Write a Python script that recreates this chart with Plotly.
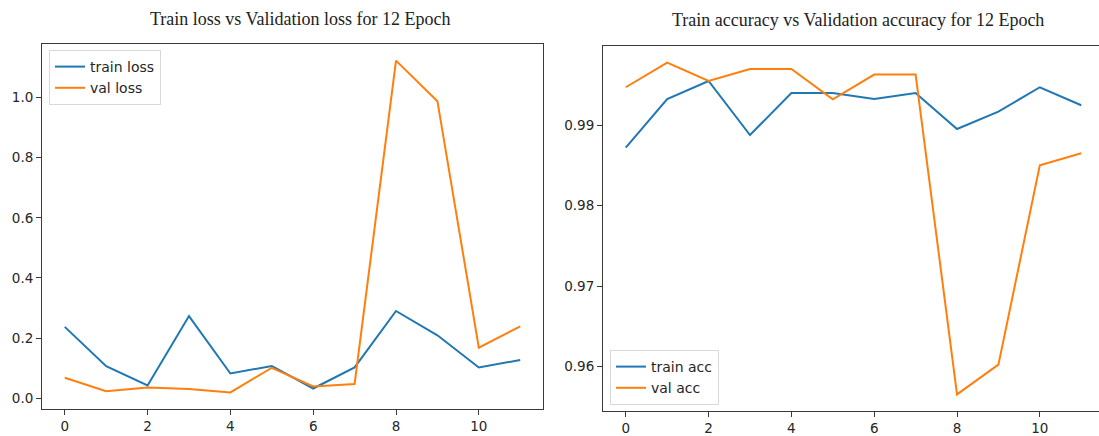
import plotly.graph_objects as go

epochs = list(range(12))
train_loss = [0.237, 0.106, 0.042, 0.273, 0.082, 0.107, 0.032, 0.102, 0.290, 0.209, 0.102, 0.127]
val_loss = [0.068, 0.023, 0.035, 0.030, 0.019, 0.101, 0.039, 0.047, 1.123, 0.988, 0.168, 0.239]
train_acc = [0.98722, 0.99327, 0.99551, 0.98879, 0.99402, 0.99402, 0.99327, 0.99402, 0.98954, 0.99170, 0.99473, 0.99249]
val_acc = [0.99473, 0.99780, 0.99551, 0.99701, 0.99701, 0.99323, 0.99631, 0.99631, 0.95651, 0.96021, 0.98502, 0.98651]
x_ticks = [0, 2, 4, 6, 8, 10]
loss_ticks = [0.0, 0.2, 0.4, 0.6, 0.8, 1.0]
acc_ticks = [0.96, 0.97, 0.98, 0.99]
title_left = "Train loss vs Validation loss for 12 Epoch"
title_right = "Train accuracy vs Validation accuracy for 12 Epoch"

W, H = 1099, 436
BLUE = "#1f77b4"
ORANGE = "#ff7f0e"
AX = "#3a3a3a"
TXT = "#262626"

fig = go.Figure()
fig.add_trace(go.Scatter(x=epochs, y=train_loss, mode="lines", name="train loss",
                         line=dict(color=BLUE, width=2), xaxis="x", yaxis="y", legend="legend"))
fig.add_trace(go.Scatter(x=epochs, y=val_loss, mode="lines", name="val loss",
                         line=dict(color=ORANGE, width=2), xaxis="x", yaxis="y", legend="legend"))
fig.add_trace(go.Scatter(x=epochs, y=train_acc, mode="lines", name="train acc",
                         line=dict(color=BLUE, width=2), xaxis="x2", yaxis="y2", legend="legend2"))
fig.add_trace(go.Scatter(x=epochs, y=val_acc, mode="lines", name="val acc",
                         line=dict(color=ORANGE, width=2), xaxis="x2", yaxis="y2", legend="legend2"))

# matplotlib-style 5% margins
def pad(vals):
    lo, hi = min(vals), max(vals)
    m = (hi - lo) * 0.05
    return [lo - m, hi + m]

xr = pad(epochs)
unit_px = (543 - 42) / (xr[1] - xr[0])
xr2 = [xr[0], xr[0] + (W - 603) / unit_px]

tickfont = dict(family="DejaVu Sans", size=13.5, color=TXT)
common = dict(showline=True, linecolor=AX, linewidth=1, ticks="outside", ticklen=5,
              tickcolor=AX, tickwidth=1, showgrid=False, zeroline=False, tickfont=tickfont)

legfont = dict(family="DejaVu Sans", size=14, color=TXT)

fig.update_layout(
    width=W, height=H,
    margin=dict(l=0, r=0, t=0, b=0),
    paper_bgcolor="white", plot_bgcolor="white",
    xaxis=dict(domain=[42 / W, 543 / W], range=xr, tickvals=x_ticks, mirror=True,
               anchor="y", **common),
    yaxis=dict(domain=[1 - 409 / H, 1 - 44 / H], range=pad(train_loss + val_loss),
               tickvals=loss_ticks, tickformat=".1f", mirror=True, anchor="x", **common),
    xaxis2=dict(domain=[603 / W, 1.0], range=xr2, tickvals=x_ticks, mirror=True,
                anchor="y2", **common),
    yaxis2=dict(domain=[1 - 411 / H, 1 - 46 / H], range=pad(train_acc + val_acc),
                tickvals=acc_ticks, tickformat=".2f", mirror=False, anchor="x2", **common),
    legend=dict(x=49 / W, y=1 - 50 / H, xanchor="left", yanchor="top",
                bgcolor="rgba(255,255,255,0.8)", bordercolor="#d9d9d9", borderwidth=1,
                font=legfont, tracegroupgap=0),
    legend2=dict(x=610 / W, y=1 - 405 / H, xanchor="left", yanchor="bottom",
                 bgcolor="rgba(255,255,255,0.8)", bordercolor="#d9d9d9", borderwidth=1,
                 font=legfont, tracegroupgap=0),
    annotations=[
        dict(text=title_left, x=300 / W, y=1 - 19 / H, xref="paper", yref="paper",
             xanchor="center", yanchor="middle", showarrow=False,
             font=dict(family="Liberation Serif", size=18, color="#222")),
        dict(text=title_right, x=858 / W, y=1 - 20 / H, xref="paper", yref="paper",
             xanchor="center", yanchor="middle", showarrow=False,
             font=dict(family="Liberation Serif", size=18, color="#222")),
    ],
    showlegend=True,
)

fig.write_html("out.html", config={"displayModeBar": False},
               post_script="document.body.style.margin='0px';")
